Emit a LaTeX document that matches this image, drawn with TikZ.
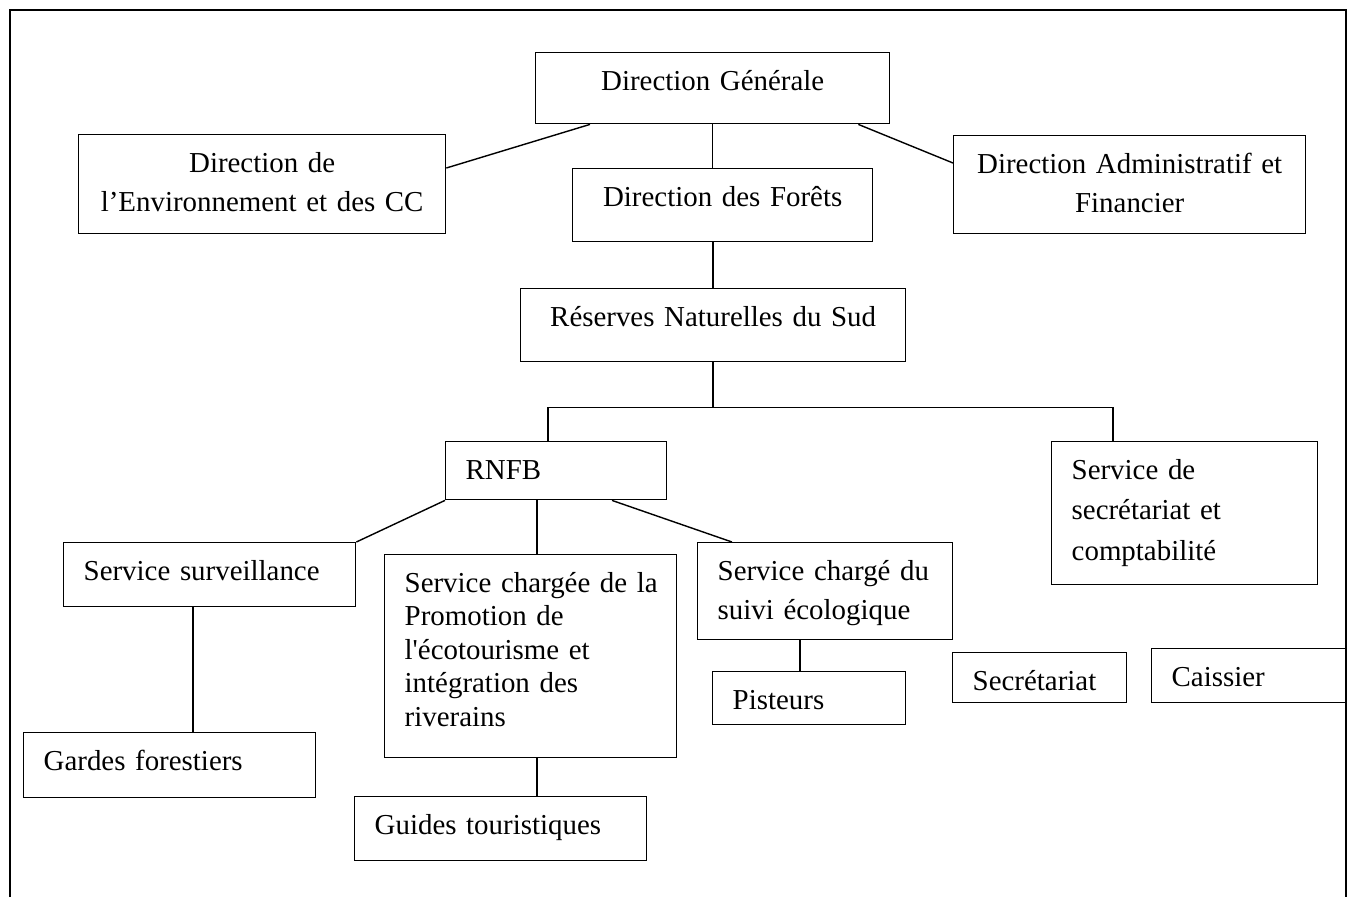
\documentclass[tikz,border=0pt]{standalone}
\usepackage{fontspec}
\setmainfont{Liberation Serif}
\usetikzlibrary{calc}

\begin{document}
\begin{tikzpicture}[x=0.02cm, y=-0.02cm]
    % Styles
    \tikzstyle{box} = [rectangle, draw, line width=0.8pt, anchor=north west, inner xsep=0.4cm, inner ysep=0pt, text height=0.75cm, align=left, font=\fontsize{16.45pt}{22.1pt}\selectfont]
    \tikzstyle{head} = [box, align=center]
    \tikzstyle{line} = [draw, line width=0.8pt]

    \useasboundingbox (0,0) rectangle (1351,897);
    % outer frame, open at the bottom
    \draw [line width=0.8pt] (10,897) -- (10,10) -- (1346,10) -- (1346,897);

    % --- DIRECTIONS ---
    \node [head, text width=6.28cm, text depth=0.67cm] (dg) at (535,52) {Direction Générale};
    \node [head, text width=6.54cm, text depth=1.23cm] (denv) at (78,134) {Direction de\\l’Environnement et des CC};
    \node [head, text width=5.20cm, text depth=0.71cm] (dfor) at (572,168) {Direction des Forêts};
    \node [head, text width=6.24cm, text depth=1.21cm] (dadm) at (953,135) {Direction Administratif et\\Financier};
    \node [head, text width=6.90cm, text depth=0.71cm] (rns) at (520,288) {Réserves Naturelles du Sud};

    % --- SERVICES ---
    \node [box, text width=3.62cm, text depth=0.41cm] (rnfb) at (445,441) {RNFB};
    \node [box, text width=4.52cm, text depth=2.11cm, font=\fontsize{16.45pt}{23pt}\selectfont] (secr) at (1051,441) {Service de\\secrétariat et\\comptabilité};
    \node [box, text width=5.04cm, text depth=0.53cm] (surv) at (63,542) {Service surveillance};
    \node [box, text width=5.04cm, text depth=3.31cm, font=\fontsize{16.45pt}{19.1pt}\selectfont] (promo) at (384,554) {Service~chargée~de~la\\Promotion de\\l\textquotesingle écotourisme et\\intégration des\\riverains};
    \node [box, text width=4.30cm, text depth=1.19cm] (suivi) at (697,542) {Service chargé du\\suivi écologique};

    % --- AGENTS ---
    \node [box, text width=5.04cm, text depth=0.55cm] (gardes) at (23,732) {Gardes forestiers};
    \node [box, text width=5.04cm, text depth=0.53cm] (guides) at (354,796) {Guides touristiques};
    \node [box, text width=3.06cm, text depth=0.31cm] (pist) at (712,671) {Pisteurs};
    \node [box, text width=2.68cm, text depth=0.25cm] (secret) at (952,652) {Secrétariat};
    \node [box, text width=3.10cm, text depth=0.33cm] (caiss) at (1151,648) {Caissier};

    % --- CONNECTIONS ---
    \path [line] ($(dg.south west)+(55,0)$) -- ($(denv.north east)+(0,34)$);
    \path [line] (dg.south) -- (dg.south |- dfor.north);
    \path [line] ($(dg.south east)+(-32,0)$) -- ($(dadm.north west)+(0,28)$);
    \path [line] (rns.north |- dfor.south) -- (rns.north);

    % branch below the reserves
    \coordinate (split) at ($(rns.south)+(0,45)$);
    \coordinate (rnfbtop) at ($(rnfb.north west)+(103,0)$);
    \coordinate (secrtop) at ($(secr.north west)+(62,0)$);
    \path [line] (rns.south) -- (split);
    \path [line] (rnfbtop) |- (split) -| (secrtop);

    % under RNFB
    \coordinate (promtop) at ($(promo.north west)+(153,0)$);
    \path [line] (rnfb.south west) -- (surv.north east);
    \path [line] (promtop |- rnfb.south) -- (promtop);
    \path [line] ($(rnfb.south west)+(167,0)$) -- ($(suivi.north west)+(35,0)$);

    % down to the field staff
    \coordinate (survfoot) at ($(surv.south west)+(130,0)$);
    \coordinate (promfoot) at ($(promo.south west)+(153,0)$);
    \coordinate (suivifoot) at ($(suivi.south west)+(103,0)$);
    \path [line] (survfoot) -- (survfoot |- gardes.north);
    \path [line] (promfoot) -- (promfoot |- guides.north);
    \path [line] (suivifoot) -- (suivifoot |- pist.north);

\end{tikzpicture}
\end{document}
